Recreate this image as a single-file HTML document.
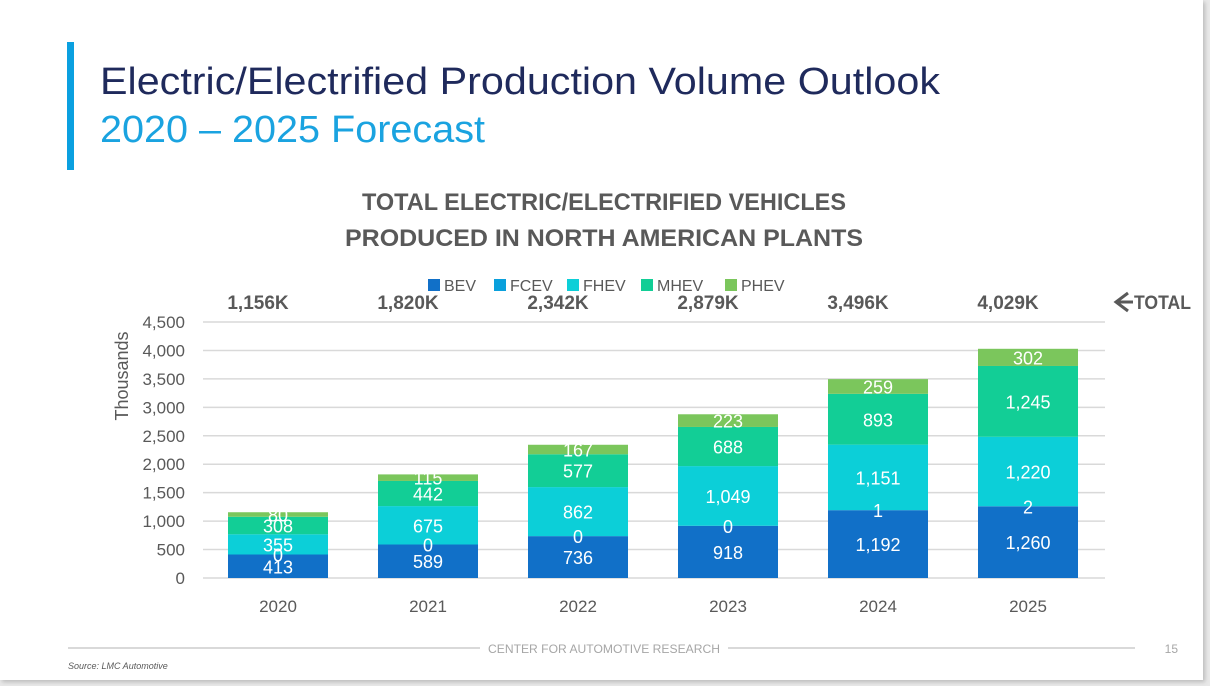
<!DOCTYPE html>
<html><head><meta charset="utf-8"><style>
html,body{margin:0;padding:0;background:#e8e8e8;}
#slide{position:absolute;left:0;top:0;width:1203px;height:680px;background:#fff;box-shadow:2px 2px 4px #bbb;font-family:"Liberation Sans",sans-serif;}
</style></head><body>
<div id="slide">
<svg width="1210" height="686" style="position:absolute;left:0;top:0" id="chart" font-family="Liberation Sans, sans-serif">
<rect x="67" y="42" width="7" height="128" fill="#0AA0E0"/>
<text x="100" y="94" font-size="38" fill="#1F2A5C" textLength="840" lengthAdjust="spacingAndGlyphs">Electric/Electrified Production Volume Outlook</text>
<text x="100" y="142" font-size="38" fill="#1AA3E0" textLength="385" lengthAdjust="spacingAndGlyphs">2020 – 2025 Forecast</text>
<text x="604" y="210" font-size="24" font-weight="bold" fill="#595959" text-anchor="middle" textLength="484" lengthAdjust="spacingAndGlyphs">TOTAL ELECTRIC/ELECTRIFIED VEHICLES</text>
<text x="604" y="246" font-size="24" font-weight="bold" fill="#595959" text-anchor="middle" textLength="518" lengthAdjust="spacingAndGlyphs">PRODUCED IN NORTH AMERICAN PLANTS</text>
<g>
<path d="M1128 293 L1116 302 L1128 311 M1116 302 L1133 302" stroke="#595959" stroke-width="3" fill="none"/>
<text x="1134" y="309" font-size="19" font-weight="bold" fill="#595959" textLength="57" lengthAdjust="spacingAndGlyphs">TOTAL</text>
</g>
<text transform="translate(128,376) rotate(-90)" font-size="18" fill="#595959" text-anchor="middle">Thousands</text>
<g id="grid"></g><g id="bars"></g><g id="legend"></g>
<line x1="68" y1="648" x2="480" y2="648" stroke="#d9d9d9" stroke-width="2"/>
<line x1="728" y1="648" x2="1135" y2="648" stroke="#d9d9d9" stroke-width="2"/>
<text x="604" y="653" font-size="12" fill="#a6a6a6" text-anchor="middle" textLength="232" lengthAdjust="spacingAndGlyphs">CENTER FOR AUTOMOTIVE RESEARCH</text>
<text x="1178" y="653" font-size="12" fill="#a6a6a6" text-anchor="end">15</text>
<text x="68" y="669" font-size="9" font-style="italic" fill="#595959">Source:  LMC Automotive</text>
</svg>
</div>
<script>
const years=["2020","2021","2022","2023","2024","2025"];
const seriesNames=["BEV","FCEV","FHEV","MHEV","PHEV"];
const bev=[413,589,736,918,1192,1260];
const fcev=[0,0,0,0,1,2];
const fhev=[355,675,862,1049,1151,1220];
const mhev=[308,442,577,688,893,1245];
const phev=[80,115,167,223,259,302];
const totals=["1,156K","1,820K","2,342K","2,879K","3,496K","4,029K"];
const yTicks=[0,500,1000,1500,2000,2500,3000,3500,4000,4500];
const colors=["#1170C8","#0AA0DC","#0CCFD8","#12CE96","#7BC65C"];
const NS="http://www.w3.org/2000/svg";
const y=v=>578-v*256/4500;
const x=i=>278+i*150;
function mk(t,a,p){const e=document.createElementNS(NS,t);for(const k in a)e.setAttribute(k,a[k]);p.appendChild(e);return e;}
const grid=document.getElementById('grid');
yTicks.forEach(t=>{
 const l=mk('line',{x1:203,x2:1105,y1:y(t),y2:y(t),stroke:'#d9d9d9','stroke-width':1.5},grid);
 
 
 const tx=mk('text',{x:185,y:y(t)+6,'font-size':17,fill:'#595959','text-anchor':'end'},grid);
 tx.textContent=t.toLocaleString('en-US');
 
 
});
const bars=document.getElementById('bars');
const series=[bev,fcev,fhev,mhev,phev];
const labels=[];
years.forEach((yr,i)=>{
 let base=0;
 series.forEach((s,k)=>{
  const v=s[i];
  const r=mk('rect',{x:x(i)-50,y:y(base+v),width:100,height:y(base)-y(base+v),fill:colors[k]},bars);
  
  
  labels.push([x(i),(y(base)+y(base+v))/2+7,v]);
  base+=v;
 });
 const xl=mk('text',{x:x(i),y:612,'font-size':17,fill:'#595959','text-anchor':'middle'},bars);
 xl.textContent=yr;
 
 
 const tl=mk('text',{x:x(i)-20,y:309,'font-size':19,'font-weight':'bold',fill:'#595959','text-anchor':'middle'},bars);
 tl.textContent=totals[i];
 
 
});
labels.forEach(L=>{
 const lt=mk('text',{x:L[0],y:L[1],'font-size':18,fill:'#fff','text-anchor':'middle'},bars);
 lt.textContent=L[2].toLocaleString('en-US');
 
 
});
const lg=document.getElementById('legend');
const lx=[428,494,567,641,725];
seriesNames.forEach((n,k)=>{
 const r=mk('rect',{x:lx[k],y:279,width:12,height:12,fill:colors[k]},lg);
 
 
 const t=mk('text',{x:lx[k]+16,y:291,'font-size':16,fill:'#595959'},lg);
 t.textContent=n;
 
 
});
</script>
</body></html>
